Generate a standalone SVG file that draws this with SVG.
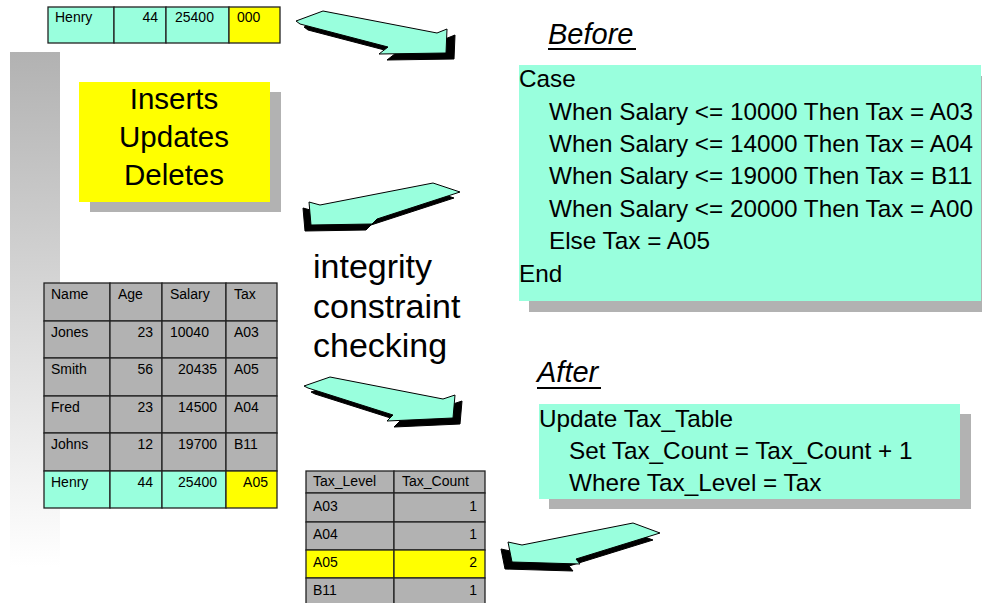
<svg xmlns="http://www.w3.org/2000/svg" width="982" height="603" viewBox="0 0 982 603">
<defs>
<linearGradient id="bar" x1="0" y1="0" x2="0" y2="1">
<stop offset="0" stop-color="#b2b2b2"/>
<stop offset="1" stop-color="#ffffff"/>
</linearGradient>
<style>
text{font-family:"Liberation Sans",Arial,sans-serif;fill:#000}
.t14{font-size:14px}
.r{text-anchor:end}
.big{font-size:24.3px}
.hd{font-size:29px;font-style:italic}
.cell{stroke:#222;stroke-width:1.3}
.cy{fill:#99ffdd}
.gr{fill:#b2b2b2}
.ye{fill:#ffff00}
.arr{fill:#99ffdd;stroke:#000;stroke-width:1}
.sh{fill:#000;stroke:#000;stroke-width:1}
</style>
</defs>
<rect x="10" y="52" width="50" height="515" fill="url(#bar)"/>

<g id="top-row">
<rect class="cy cell" x="48" y="7" width="66" height="36"/>
<rect class="cy cell" x="114" y="7" width="52" height="36"/>
<rect class="cy cell" x="166" y="7" width="63" height="36"/>
<rect class="ye cell" x="229" y="7" width="51" height="36"/>
<text class="t14" x="55" y="22">Henry</text>
<text class="t14 r" x="158" y="22">44</text>
<text class="t14" x="175" y="22">25400</text>
<text class="t14" x="237" y="22">000</text>
</g>

<g id="iud">
<rect class="gr" x="90" y="92" width="191" height="120"/>
<rect class="ye" x="79" y="82" width="191" height="120"/>
<text x="174" y="109" text-anchor="middle" font-size="29.5">Inserts</text>
<text x="174" y="147" text-anchor="middle" font-size="29.5">Updates</text>
<text x="174" y="185" text-anchor="middle" font-size="29.5">Deletes</text>
</g>

<g id="emp-table">
<rect class="gr cell" x="44" y="283" width="66" height="38"/>
<rect class="gr cell" x="110" y="283" width="52" height="38"/>
<rect class="gr cell" x="162" y="283" width="64" height="38"/>
<rect class="gr cell" x="226" y="283" width="51" height="38"/>
<rect class="gr cell" x="44" y="321" width="66" height="37"/>
<rect class="gr cell" x="110" y="321" width="52" height="37"/>
<rect class="gr cell" x="162" y="321" width="64" height="37"/>
<rect class="gr cell" x="226" y="321" width="51" height="37"/>
<rect class="gr cell" x="44" y="358" width="66" height="38"/>
<rect class="gr cell" x="110" y="358" width="52" height="38"/>
<rect class="gr cell" x="162" y="358" width="64" height="38"/>
<rect class="gr cell" x="226" y="358" width="51" height="38"/>
<rect class="gr cell" x="44" y="396" width="66" height="37"/>
<rect class="gr cell" x="110" y="396" width="52" height="37"/>
<rect class="gr cell" x="162" y="396" width="64" height="37"/>
<rect class="gr cell" x="226" y="396" width="51" height="37"/>
<rect class="gr cell" x="44" y="433" width="66" height="38"/>
<rect class="gr cell" x="110" y="433" width="52" height="38"/>
<rect class="gr cell" x="162" y="433" width="64" height="38"/>
<rect class="gr cell" x="226" y="433" width="51" height="38"/>
<rect class="cy cell" x="44" y="471" width="66" height="37"/>
<rect class="cy cell" x="110" y="471" width="52" height="37"/>
<rect class="cy cell" x="162" y="471" width="64" height="37"/>
<rect class="ye cell" x="226" y="471" width="51" height="37"/>
<text class="t14" x="51" y="299">Name</text>
<text class="t14" x="118" y="299">Age</text>
<text class="t14" x="170" y="299">Salary</text>
<text class="t14" x="234" y="299">Tax</text>
<text class="t14" x="51" y="337">Jones</text>
<text class="t14 r" x="153" y="337">23</text>
<text class="t14" x="170" y="337">10040</text>
<text class="t14" x="234" y="337">A03</text>
<text class="t14" x="51" y="374">Smith</text>
<text class="t14 r" x="153" y="374">56</text>
<text class="t14 r" x="217" y="374">20435</text>
<text class="t14" x="234" y="374">A05</text>
<text class="t14" x="51" y="412">Fred</text>
<text class="t14 r" x="153" y="412">23</text>
<text class="t14 r" x="217" y="412">14500</text>
<text class="t14" x="234" y="412">A04</text>
<text class="t14" x="51" y="449">Johns</text>
<text class="t14 r" x="153" y="449">12</text>
<text class="t14 r" x="217" y="449">19700</text>
<text class="t14" x="234" y="449">B11</text>
<text class="t14" x="51" y="487">Henry</text>
<text class="t14 r" x="153" y="487">44</text>
<text class="t14 r" x="217" y="487">25400</text>
<text class="t14 r" x="268" y="487">A05</text>
</g>

<g id="label-icc">
<text x="313" y="278" font-size="34">integrity</text>
<text x="313" y="318" font-size="34">constraint</text>
<text x="313" y="357" font-size="34">checking</text>
</g>

<g id="tax-table">
<rect class="gr cell" x="306" y="471" width="88" height="22"/>
<rect class="gr cell" x="394" y="471" width="91" height="22"/>
<rect class="gr cell" x="306" y="493" width="88" height="29"/>
<rect class="gr cell" x="394" y="493" width="91" height="29"/>
<rect class="gr cell" x="306" y="522" width="88" height="28"/>
<rect class="gr cell" x="394" y="522" width="91" height="28"/>
<rect class="ye cell" x="306" y="550" width="88" height="28"/>
<rect class="ye cell" x="394" y="550" width="91" height="28"/>
<rect class="gr cell" x="306" y="578" width="88" height="30"/>
<rect class="gr cell" x="394" y="578" width="91" height="30"/>
<text class="t14" x="313" y="486">Tax_Level</text>
<text class="t14" x="402" y="486">Tax_Count</text>
<text class="t14" x="313" y="511">A03</text>
<text class="t14 r" x="477" y="511">1</text>
<text class="t14" x="313" y="539">A04</text>
<text class="t14 r" x="477" y="539">1</text>
<text class="t14" x="313" y="567">A05</text>
<text class="t14 r" x="477" y="567">2</text>
<text class="t14" x="313" y="595">B11</text>
<text class="t14 r" x="477" y="595">1</text>
</g>

<g id="before">
<text class="hd" x="548" y="44">Before</text>
<rect x="548" y="48" width="88" height="2" fill="#000"/>
<rect class="gr" x="529" y="76" width="453" height="236"/>
<rect class="cy" x="519" y="65" width="462" height="236"/>
<text class="big" x="519" y="87">Case</text>
<text class="big" x="549" y="120">When Salary &lt;= 10000 Then Tax = A03</text>
<text class="big" x="549" y="152">When Salary &lt;= 14000 Then Tax = A04</text>
<text class="big" x="549" y="184">When Salary &lt;= 19000 Then Tax = B11</text>
<text class="big" x="549" y="217">When Salary &lt;= 20000 Then Tax = A00</text>
<text class="big" x="549" y="249">Else Tax = A05</text>
<text class="big" x="519" y="282">End</text>
</g>

<g id="after">
<text class="hd" x="537" y="382">After</text>
<rect x="537" y="387" width="64" height="2" fill="#000"/>
<rect class="gr" x="549" y="414" width="422" height="95"/>
<rect class="cy" x="539" y="404" width="421" height="95"/>
<text class="big" x="539" y="427">Update Tax_Table</text>
<text class="big" x="569" y="459">Set Tax_Count = Tax_Count + 1</text>
<text class="big" x="569" y="491">Where Tax_Level = Tax</text>
</g>

<g id="connectors">
<g id="arrow1">
<polygon class="sh" transform="translate(8,6)" points="296,21 323,11 437,33 447,29 446,53 379,54 388,47 300,24"/>
<polygon class="arr" points="296,21 323,11 437,33 447,29 446,53 379,54 388,47 300,24"/>
</g>
<g id="arrow2">
<polygon class="sh" transform="translate(-6,6)" points="433,183 460,192 377,219 372,224 311,225 309,202 320,205"/>
<polygon class="arr" points="433,183 460,192 377,219 372,224 311,225 309,202 320,205"/>
</g>
<g id="arrow3">
<polygon class="sh" transform="translate(7,6)" points="304,386 330,377 443,399 455,395 453,418 387,421 393,415 308,388"/>
<polygon class="arr" points="304,386 330,377 443,399 455,395 453,418 387,421 393,415 308,388"/>
</g>
<g id="arrow4">
<polygon class="sh" transform="translate(-7,7)" points="633,523 660,533 576,559 580,564 512,562 508,542 522,545"/>
<polygon class="arr" points="633,523 660,533 576,559 580,564 512,562 508,542 522,545"/>
</g>
</g>
</svg>
